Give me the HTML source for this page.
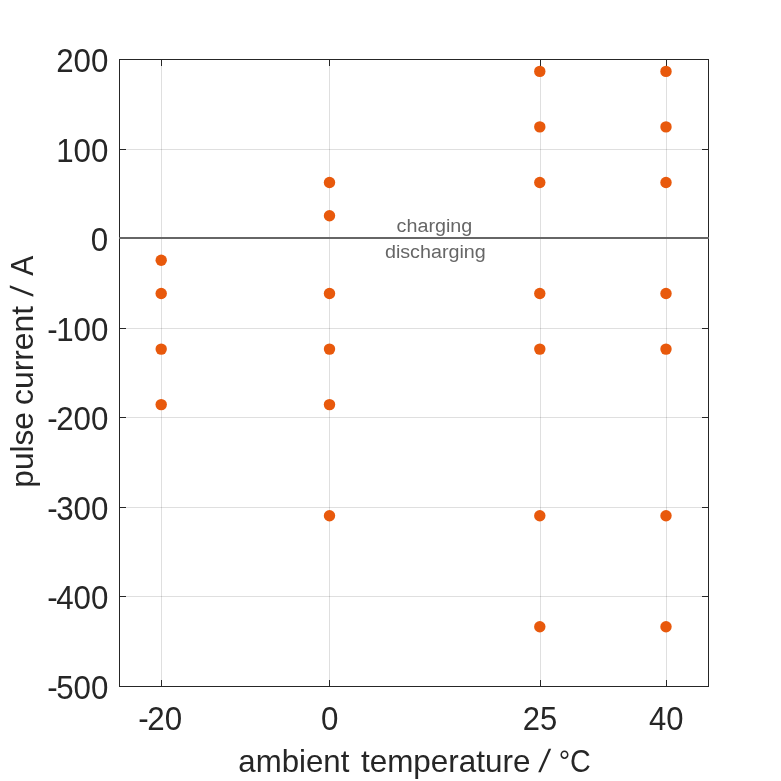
<!DOCTYPE html>
<html lang="en"><head><meta charset="utf-8"><title>pulse current vs ambient temperature</title>
<style>
html,body{margin:0;padding:0;background:#fff;}
body{width:781px;height:781px;overflow:hidden;}
svg{display:block;}
text{font-family:"Liberation Sans",sans-serif;fill:#262626;font-size:32px;}
.an text{font-size:18.6px;fill:#666666;}
</style></head><body>
<svg width="781" height="781" viewBox="0 0 781 781">
<rect x="0" y="0" width="781" height="781" fill="#ffffff"/>
<g fill="#262626" fill-opacity="0.15" shape-rendering="crispEdges">
<rect x="161" y="59" width="1" height="627"/>
<rect x="329" y="59" width="1" height="627"/>
<rect x="540" y="59" width="1" height="627"/>
<rect x="666" y="59" width="1" height="627"/>
<rect x="119" y="149" width="589" height="1"/>
<rect x="119" y="328" width="589" height="1"/>
<rect x="119" y="417" width="589" height="1"/>
<rect x="119" y="507" width="589" height="1"/>
<rect x="119" y="596" width="589" height="1"/>
</g>
<rect x="119" y="237" width="590" height="2" fill="#666666" shape-rendering="crispEdges"/>
<g fill="#262626" shape-rendering="crispEdges">
<rect x="119" y="59" width="590" height="1"/>
<rect x="119" y="686" width="590" height="1"/>
<rect x="119" y="59" width="1" height="178"/>
<rect x="119" y="239" width="1" height="448"/>
<rect x="708" y="59" width="1" height="178"/>
<rect x="708" y="239" width="1" height="448"/>
<rect x="161" y="59" width="1" height="7"/>
<rect x="161" y="680" width="1" height="7"/>
<rect x="329" y="59" width="1" height="7"/>
<rect x="329" y="680" width="1" height="7"/>
<rect x="540" y="59" width="1" height="7"/>
<rect x="540" y="680" width="1" height="7"/>
<rect x="666" y="59" width="1" height="7"/>
<rect x="666" y="680" width="1" height="7"/>
<rect x="119" y="149" width="7" height="1"/>
<rect x="702" y="149" width="7" height="1"/>
<rect x="119" y="328" width="7" height="1"/>
<rect x="702" y="328" width="7" height="1"/>
<rect x="119" y="417" width="7" height="1"/>
<rect x="702" y="417" width="7" height="1"/>
<rect x="119" y="507" width="7" height="1"/>
<rect x="702" y="507" width="7" height="1"/>
<rect x="119" y="596" width="7" height="1"/>
<rect x="702" y="596" width="7" height="1"/>
</g>
<g fill="#e8590c">
<circle cx="161.2" cy="260.2" r="5.7"/>
<circle cx="161.2" cy="293.5" r="5.7"/>
<circle cx="161.2" cy="349.1" r="5.7"/>
<circle cx="161.2" cy="404.6" r="5.7"/>
<circle cx="329.5" cy="182.5" r="5.7"/>
<circle cx="329.5" cy="215.8" r="5.7"/>
<circle cx="329.5" cy="293.5" r="5.7"/>
<circle cx="329.5" cy="349.1" r="5.7"/>
<circle cx="329.5" cy="404.6" r="5.7"/>
<circle cx="329.5" cy="515.7" r="5.7"/>
<circle cx="539.8" cy="71.4" r="5.7"/>
<circle cx="539.8" cy="126.9" r="5.7"/>
<circle cx="539.8" cy="182.5" r="5.7"/>
<circle cx="539.8" cy="293.5" r="5.7"/>
<circle cx="539.8" cy="349.1" r="5.7"/>
<circle cx="539.8" cy="515.7" r="5.7"/>
<circle cx="539.8" cy="626.7" r="5.7"/>
<circle cx="666.0" cy="71.4" r="5.7"/>
<circle cx="666.0" cy="126.9" r="5.7"/>
<circle cx="666.0" cy="182.5" r="5.7"/>
<circle cx="666.0" cy="293.5" r="5.7"/>
<circle cx="666.0" cy="349.1" r="5.7"/>
<circle cx="666.0" cy="515.7" r="5.7"/>
<circle cx="666.0" cy="626.7" r="5.7"/>
</g>
<g>
<text transform="translate(56.15,71.60) scale(0.9780,1.045)">200</text>
<text transform="translate(56.15,161.60) scale(0.9780,1.045)">100</text>
<text transform="translate(90.68,250.60) scale(0.9780,1.045)">0</text>
<text transform="translate(47.19,340.60) scale(0.9780,1.045)">-<tspan dx="-1.50">100</tspan></text>
<text transform="translate(47.19,429.60) scale(0.9780,1.045)">-<tspan dx="-1.50">200</tspan></text>
<text transform="translate(47.19,519.60) scale(0.9780,1.045)">-<tspan dx="-1.50">300</tspan></text>
<text transform="translate(47.19,608.60) scale(0.9780,1.045)">-<tspan dx="-1.50">400</tspan></text>
<text transform="translate(47.19,698.60) scale(0.9780,1.045)">-<tspan dx="-1.50">500</tspan></text>
</g>
<g>
<text transform="translate(138.19,729.60) scale(0.9780,1.045)">-<tspan dx="-1.31">20</tspan></text>
<text transform="translate(320.90,729.60) scale(0.9780,1.045)">0</text>
<text transform="translate(522.74,729.60) scale(0.9682,1.045)">25</text>
<text transform="translate(649.08,729.60) scale(0.9700,1.045)">40</text>
</g>
<g>
<text transform="translate(238.31,772.2) scale(0.9758,1)">ambient</text>
<text transform="translate(360.91,772.2) scale(0.9836,1)">temperature</text>
<text transform="translate(538.35,772.2) skewX(-9.89)">/</text>
<text transform="translate(558.64,772.2) scale(0.8970,1)">°C</text>
</g>
<g>
<text transform="translate(33,487.68) rotate(-90) scale(0.9879,1)">pulse</text>
<text transform="translate(33,405.00) rotate(-90) scale(0.9960,1)">current</text>
<text transform="translate(33,296.85) rotate(-90) skewX(-6.48)">/</text>
<text transform="translate(33,275.87) rotate(-90) scale(0.9380,1)">A</text>
</g>
<g class="an">
<text transform="translate(396.59,231.6) scale(1.0614,1)">charging</text>
<text transform="translate(384.92,257.6) scale(1.0612,1)">discharging</text>
</g>
</svg></body></html>
